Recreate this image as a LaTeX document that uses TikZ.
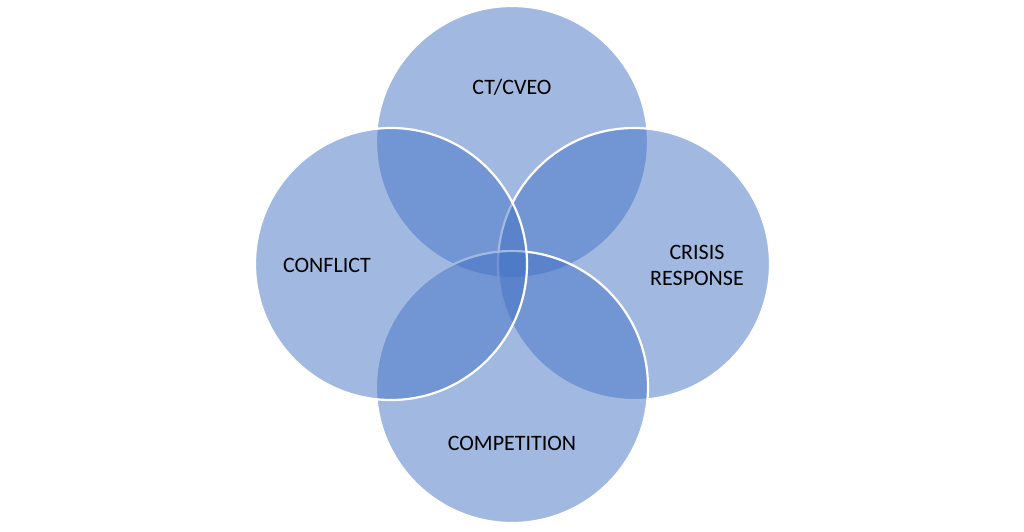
\documentclass[tikz,border=0pt]{standalone}
\usepackage{fontspec}
\setmainfont{Carlito}
\definecolor{vblue}{HTML}{4472C4}
\tikzset{
  venn/.style={circle, minimum size=272pt, inner sep=0pt, fill=vblue, fill opacity=0.5, draw=white, draw opacity=1, line width=2.2pt},
  lbl/.style={font=\fontsize{22}{26}\selectfont, text=black, align=center, inner sep=0pt}
}
\begin{document}
\begin{tikzpicture}[x=1pt,y=-1pt]
\useasboundingbox (0,0) rectangle (1024,532);
\node[venn] (ctc) at (512,142) {};
\node[venn] (cri) at (634,264) {};
\node[venn] (com) at (512,387) {};
\node[venn] (con) at (391,264) {};
\node[lbl] (tctc) at (512,87) {CT/CVEO};
\node[lbl] (tcri) at (697,265) {CRISIS\\RESPONSE};
\node[lbl] (tcom) at (512,443) {COMPETITION};
\node[lbl] (tcon) at (327,265) {CONFLICT};
\end{tikzpicture}
\end{document}
